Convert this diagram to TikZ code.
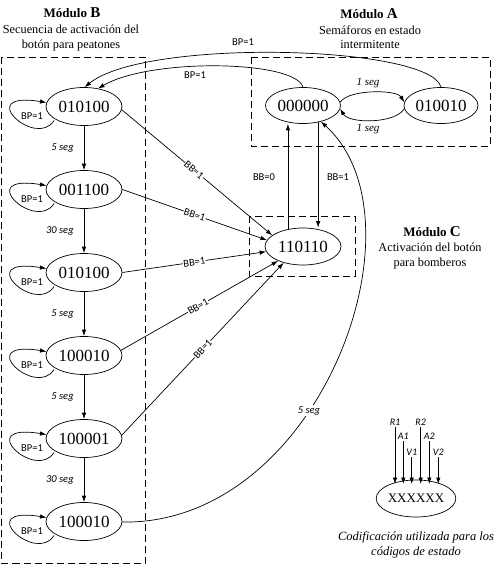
\documentclass[tikz,border=0pt]{standalone}
\usepackage{fontspec}
\setmainfont{Liberation Serif}
\newfontfamily\lblfont{Carlito}
\usetikzlibrary{shapes.geometric,arrows.meta}

\tikzset{
  >={Latex[length=6.5pt,width=4.5pt]},
  every path/.style={line width=0.7pt},
  state/.style={ellipse, draw, minimum width=76pt, minimum height=38pt,
    inner sep=0pt, font=\fontsize{17}{20}\selectfont},
  lbl/.style={font=\lblfont\fontsize{10.5}{12}\selectfont, inner sep=1pt},
  seglbl/.style={font=\lblfont\itshape\fontsize{10.5}{12}\selectfont, inner sep=0pt},
  serseg/.style={font=\itshape\fontsize{11}{12}\selectfont, inner sep=0pt},
  onwire/.style={lbl, fill=white, sloped, inner sep=0.5pt},
  modbox/.style={draw, dash pattern=on 7pt off 4pt},
  title/.style={font=\bfseries\fontsize{13}{15}\selectfont, inner sep=0pt},
  desc/.style={font=\fontsize{12.3}{14.5}\selectfont, align=center, inner sep=0pt},
  bit/.style={font=\lblfont\itshape\fontsize{10}{12}\selectfont, inner sep=1pt, anchor=south},
}

% self-loop "BP=1" on the left side of a state:
% leaves the lower left of the ellipse, swings round and re-enters at its upper left
\newcommand{\bploop}[1]{%
  \draw[->] ([shift={(-30,-14)}]#1.center)
    .. controls ([shift={(-48,-43)}]#1.center) and ([shift={(-112,16)}]#1.center)
    .. ([shift={(-37.5,4)}]#1.center);
  \node[lbl] at ([shift={(-52,-10)}]#1.center) {BP=1};}

\begin{document}
\begin{tikzpicture}[x=1pt,y=1pt]
\useasboundingbox (0,0) rectangle (496,-564);

% module frames
\draw[modbox] (1.5,-57) rectangle (145,-563);
\draw[modbox] (251,-57) rectangle (490,-146);
\draw[modbox] (249,-216) rectangle (355,-276);

% module headings
\node[title] at (72,-13) {Módulo {\fontsize{15}{15}\selectfont B}};
\node[desc] at (71,-38) {Secuencia de activación del\\botón para peatones};
\node[title] at (369,-14) {Módulo {\fontsize{15}{15}\selectfont A}};
\node[desc] at (370,-37) {Semáforos en estado\\intermitente};
\node[title] at (432,-232) {Módulo {\fontsize{15}{15}\selectfont C}};
\node[desc] at (430,-256) {Activación del botón\\para bomberos};

% module B: pedestrian button sequence
\node[state] (s1) at (84,-106.5) {010100};
\node[state] (s2) at (84,-189.5) {001100};
\node[state] (s3) at (84,-272.5) {010100};
\node[state] (s4) at (84,-355.5) {100010};
\node[state] (s5) at (84,-438.5) {100001};
\node[state] (s6) at (84,-521.5) {100010};

\draw[->] (s1) -- node[seglbl, left=10pt] {5 seg} (s2);
\draw[->] (s2) -- node[seglbl, left=10pt] {30 seg} (s3);
\draw[->] (s3) -- node[seglbl, left=10pt] {5 seg} (s4);
\draw[->] (s4) -- node[seglbl, left=10pt] {5 seg} (s5);
\draw[->] (s5) -- node[seglbl, left=10pt] {30 seg} (s6);

\bploop{s1}
\bploop{s2}
\bploop{s3}
\bploop{s4}
\bploop{s5}
\bploop{s6}

% module A: flashing lights
\node[state, minimum width=75pt, minimum height=36pt] (a0) at (303,-105.5) {000000};
\node[state, minimum width=74pt, minimum height=36pt] (a1) at (441,-105.5) {010010};

\draw[->] (a0.5) to[out=60,in=120,looseness=0.6] (a1.175);
\draw[->] (a1.185) to[out=-120,in=-60,looseness=0.7] (a0.-5);
\node[serseg] at (368,-83) {1 seg};
\node[serseg] at (368,-129) {1 seg};

% pedestrian button from module A
\draw[->] (a1.north) .. controls (430,-45) and (145,-38) .. (s1.88);
\node[lbl] at (243,-42) {BP=1};
\draw[->] (a0.north) .. controls (295,-60) and (150,-58) .. (s1.52);
\node[lbl] at (195,-75) {BP=1};

% module C: firefighter button
\node[state, minimum height=37pt] (c) at (303,-246.5) {110110};

\draw[->] (c.131) -- (c.131 |- a0.south);
\draw[->] (a0.-48) -- (a0.-48 |- c.north);
\node[lbl] at (264,-177) {BB=0};
\node[lbl] at (338,-177) {BB=1};

\draw[->] (s1.-5) -- node[onwire, pos=0.48] {BB=1} (c.160);
\draw[->] (s2.0) -- node[onwire, pos=0.50] {BB=1} (c.170);
\draw[->] (s3.0) -- node[onwire, pos=0.50] {BB=1} (c.188);
\draw[->] (s4.8) -- node[onwire, pos=0.49] {BB=1} (c.210);
\draw[->] (s5.5) -- node[onwire, pos=0.50] {BB=1} (c.220);

% return to flashing mode
\draw[->] (s6) .. controls (320,-525) and (430,-220) .. (a0)
  node[seglbl, pos=0.4, fill=white, inner sep=1pt] {5 seg};

% state code legend
\node[state, minimum width=75pt, minimum height=37pt,
  font=\fontsize{13}{15}\selectfont] (code) at (416,-498.5) {XXXXXX};
\coordinate (tip) at (0,-484);
\node[bit] (r1) at (395,-427) {R1};
\node[bit] (y1) at (403.3,-441) {A1};
\node[bit] (g1) at (411.7,-457) {V1};
\node[bit] (r2) at (420.7,-427) {R2};
\node[bit] (y2) at (429.3,-441) {A2};
\node[bit] (g2) at (438.3,-457) {V2};
\foreach \b in {r1,y1,g1,r2,y2,g2}
  \draw[->] (\b.south) -- (\b.south |- tip);

\node[font=\itshape\fontsize{12.5}{15}\selectfont, align=center, inner sep=0pt]
  at (416,-544.5) {Codificación utilizada para los\\códigos de estado};
\end{tikzpicture}
\end{document}
